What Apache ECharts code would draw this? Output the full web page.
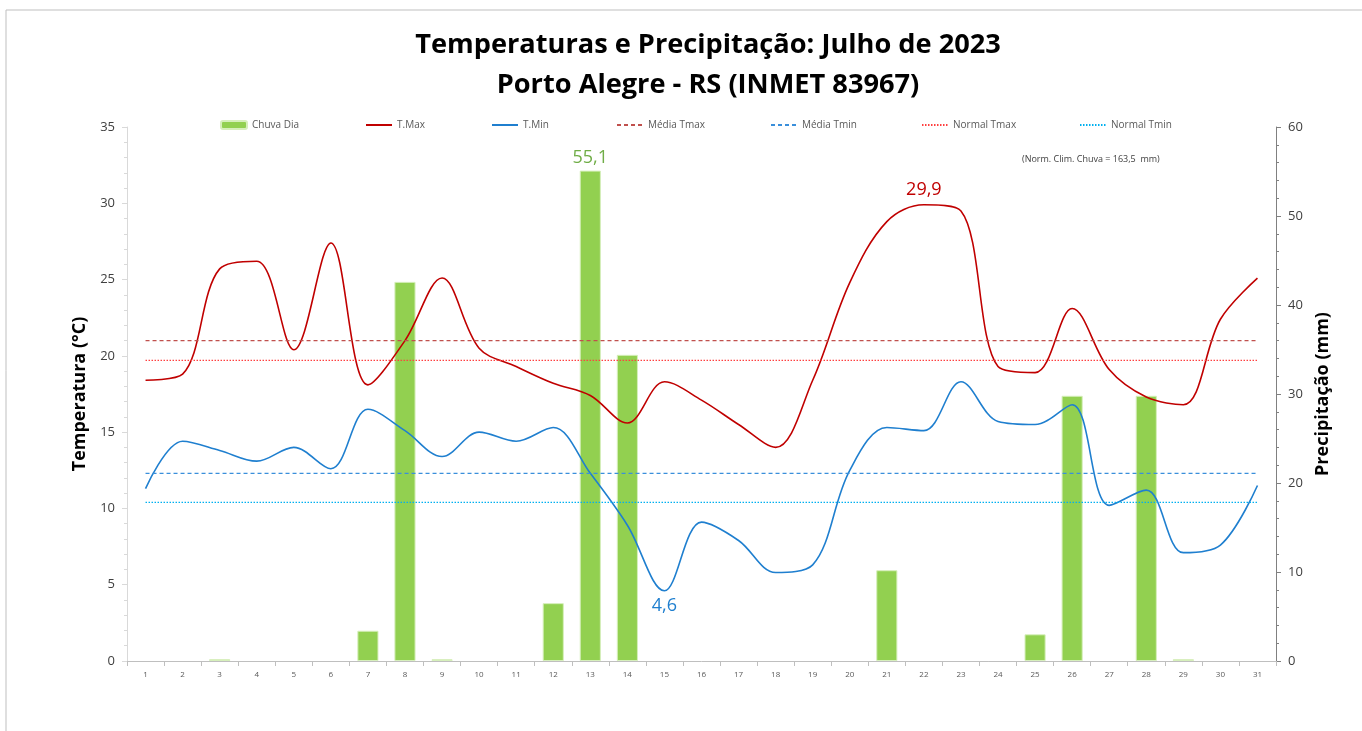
<!DOCTYPE html>
<html>
<head>
<meta charset="utf-8">
<script src="https://cdn.jsdelivr.net/npm/echarts@6/dist/echarts.min.js"></script>
<style>
  html, body { margin:0; padding:0; background:#fff; }
  #main { width:1362px; height:731px; }
</style>
</head>
<body>
<div id="main"></div>
<script>
var dias = [];
for (var d = 1; d <= 31; d++) dias.push(String(d));

var tmax = [18.4,18.8,25.7,26.2,20.4,27.4,18.1,21.0,25.1,20.5,19.3,18.2,17.4,15.6,18.3,17.1,15.5,14.0,18.4,24.8,28.8,29.9,29.5,19.3,18.9,23.1,19.1,17.3,16.8,22.4,25.1];
var tmin = [11.3,14.4,13.8,13.1,14.0,12.6,16.5,15.1,13.4,15.0,14.4,15.3,12.3,8.9,4.6,9.1,7.9,5.8,6.3,12.5,15.3,15.1,18.3,15.7,15.5,16.8,10.2,11.2,7.1,7.6,11.5];
var chuva = [0,0,0.2,0,0,0,3.4,42.6,0.2,0,0,6.5,55.1,34.4,0,0,0,0,0,0,10.2,0,0,0,3.0,29.8,0,29.8,0.2,0,0];

var mediaTmax = 21.0, mediaTmin = 12.3, normalTmax = 19.7, normalTmin = 10.4;

var fmt = function (v) { return String(v).replace('.', ','); };

var myChart = echarts.init(document.getElementById('main'));

function flat(v) { return dias.map(function () { return v; }); }

var legendFont = { fontFamily:'Open Sans', fontSize:10, color:'#595959' };
function leg(name, left, hideSymbol) {
  var l = { data:[name], left:left, top:120, padding:0, itemGap:0, itemWidth:26, itemHeight:8,
            textStyle:legendFont, selectedMode:false };
  if (hideSymbol) l.itemStyle = { opacity:0 };
  return l;
}
var chuvaMax = Math.max.apply(null, chuva);

var option = {
  animation: false,
  title: {
    text: 'Temperaturas e Precipitação: Julho de 2023\nPorto Alegre - RS (INMET 83967)',
    left: 703, textAlign:'center', top: 20,
    textStyle: { fontFamily:'Open Sans', fontSize:27.2, fontWeight:'bold', color:'#000', lineHeight:40 }
  },
  legend: [
    leg('Chuva Dia', 220, false), leg('T.Max', 365, true), leg('T.Min', 491, true), leg('Média Tmax', 616, true),
    leg('Média Tmin', 770, true), leg('Normal Tmax', 921, true), leg('Normal Tmin', 1079, true)
  ],
  grid: { left:127, right:86, top:127, bottom:70 },
  graphic: [
    { type:'polyline', shape:{ points:[[6,731],[6,10],[1362,10]] }, style:{ stroke:'#bfbfbf', lineWidth:1, fill:null } },
    { type:'text', left:1022, top:155, style:{ text:'(Norm. Clim. Chuva = 163,5  mm)', fontFamily:'Open Sans', fontSize:9, fill:'#404040' } }
  ],
  xAxis: {
    type:'category', data:dias, boundaryGap:true,
    axisLine:{ lineStyle:{ color:'#bfbfbf' } },
    axisTick:{ show:true, alignWithLabel:false, lineStyle:{ color:'#bfbfbf' } },
    axisLabel:{ fontFamily:'Open Sans', fontSize:8, color:'#595959', margin:10 }
  },
  yAxis: [
    {
      type:'value', min:0, max:35, interval:5,
      name:'Temperatura (°C)', nameLocation:'middle', nameGap:28, nameRotate:90,
      nameTextStyle:{ fontFamily:'Open Sans', fontSize:18, fontWeight:'bold', color:'#000' },
      axisLine:{ show:true, lineStyle:{ color:'#d9d9d9' } },
      axisTick:{ show:true, length:5, lineStyle:{ color:'#d9d9d9' } },
      minorTick:{ show:true, splitNumber:5, length:3, lineStyle:{ color:'#d9d9d9' } },
      splitLine:{ show:false },
      axisLabel:{ fontFamily:'Open Sans', fontSize:13, color:'#404040', margin:12 }
    },
    {
      type:'value', min:0, max:60, interval:10,
      name:'Precipitação (mm)', nameLocation:'middle', nameGap:34, nameRotate:90,
      nameTextStyle:{ fontFamily:'Open Sans', fontSize:18, fontWeight:'bold', color:'#000' },
      axisLine:{ show:true, lineStyle:{ color:'#808080' } },
      axisTick:{ show:true, length:5, lineStyle:{ color:'#808080' } },
      minorTick:{ show:true, splitNumber:5, length:3, lineStyle:{ color:'#808080' } },
      splitLine:{ show:false },
      axisLabel:{ fontFamily:'Open Sans', fontSize:13, color:'#404040', margin:12 }
    }
  ],
  series: [
    {
      name:'Chuva Dia', type:'bar', yAxisIndex:1, data:chuva.map(function (v) {
        if (v === 0) return '-';
        if (v === chuvaMax) {
          return { value:v, label:{ show:true, position:'top', formatter:fmt(v), color:'#70AD47', fontFamily:'Open Sans', fontSize:18, distance:4 } };
        }
        return v;
      }),
      barWidth:'57%',
      itemStyle:{ color:'#92D050', borderColor:'#d6efbb', borderWidth:1 }
    },
    {
      name:'T.Max', type:'line', data:tmax, smooth:0.35, symbol:'none',
      lineStyle:{ color:'#C00000', width:1.6 }, itemStyle:{ color:'#C00000' },
      markPoint:{ symbol:'circle', symbolSize:0, data:[{ type:'max', label:{ show:true, position:'top', distance:6, formatter:function (p) { return fmt(p.value); }, color:'#C00000', fontFamily:'Open Sans', fontSize:18 } }] }
    },
    {
      name:'T.Min', type:'line', data:tmin, smooth:0.35, symbol:'none',
      lineStyle:{ color:'#1F7FCF', width:1.6 }, itemStyle:{ color:'#1F7FCF' },
      markPoint:{ symbol:'circle', symbolSize:0, data:[{ type:'min', label:{ show:true, position:'bottom', distance:6, formatter:function (p) { return fmt(p.value); }, color:'#1F7FCF', fontFamily:'Open Sans', fontSize:18 } }] }
    },
    { name:'Média Tmax', type:'line', data:flat(mediaTmax), symbol:'none', lineStyle:{ color:'#C0504D', width:1.2, type:[4,3] }, itemStyle:{ color:'#E06666' } },
    { name:'Média Tmin', type:'line', data:flat(mediaTmin), symbol:'none', lineStyle:{ color:'#3A8FDB', width:1.2, type:[4,3] }, itemStyle:{ color:'#6FA8DC' } },
    { name:'Normal Tmax', type:'line', data:flat(normalTmax), symbol:'none', lineStyle:{ color:'#FF4040', width:1.2, type:[1.5,1.5] }, itemStyle:{ color:'#FF7070' } },
    { name:'Normal Tmin', type:'line', data:flat(normalTmin), symbol:'none', lineStyle:{ color:'#00B0F0', width:1.2, type:[1.5,1.5] }, itemStyle:{ color:'#40C8F8' } }
  ]
};

myChart.setOption(option);
</script>
</body>
</html>
